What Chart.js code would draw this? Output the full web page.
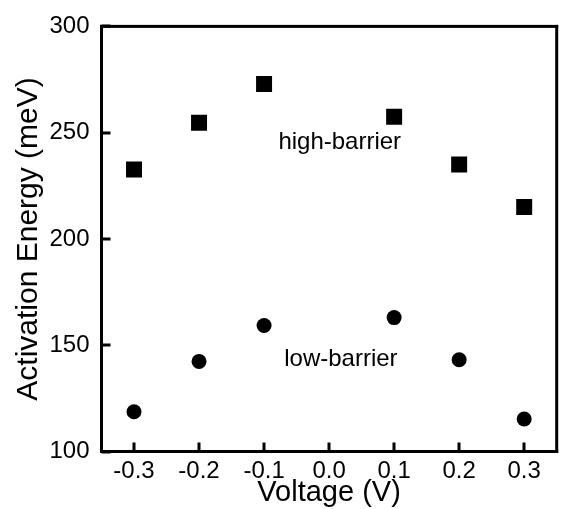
<!DOCTYPE html>
<html>
<head>
<meta charset="utf-8">
<script src="https://cdn.jsdelivr.net/npm/chart.js@4/dist/chart.umd.min.js"></script>
<style>
  html, body { margin: 0; padding: 0; background: #fff; }
  #wrap { width: 568px; height: 509px; }
</style>
</head>
<body>
<div id="wrap"><canvas id="chart"></canvas></div>
<script>
var voltages = [-0.3, -0.2, -0.1, 0.1, 0.2, 0.3];
var highBarrier = [232.7, 254.7, 272.9, 257.5, 235, 215];
var lowBarrier = [118.7, 142.4, 159.3, 163, 143.2, 115.3];
var xTicks = [-0.3, -0.2, -0.1, 0.0, 0.1, 0.2, 0.3];
var yTicks = [100, 150, 200, 250, 300];
var notes = [
  { text: 'high-barrier', x: -0.078, y: 242.2 },
  { text: 'low-barrier', x: -0.069, y: 140 }
];

var fontFamily = '"Liberation Sans", Arial, sans-serif';
var tickLen = 9;

function toPoints(ys) {
  return voltages.map(function(v, i) {
    return { x: v, y: ys[i] };
  });
}

// frame, inward ticks and in-plot labels
var framePlugin = {
  id: 'frame',
  afterDraw: function(chart) {
    var ctx = chart.ctx;
    var a = chart.chartArea;
    var xs = chart.scales.x;
    var ys = chart.scales.y;
    ctx.save();
    ctx.fillStyle = '#000';
    ctx.fillRect(a.left - 1.5, a.top - 1.5, a.right - a.left + 3, 3);
    ctx.fillRect(a.left - 1.5, a.bottom - 1.5, a.right - a.left + 3, 3);
    ctx.fillRect(a.left - 1.5, a.top - 1.5, 3, a.bottom - a.top + 3);
    ctx.fillRect(a.right - 1.5, a.top - 1.5, 3, a.bottom - a.top + 3);
    xTicks.forEach(function(v) {
      var px = Math.round(xs.getPixelForValue(v));
      ctx.fillRect(px - 1.5, a.bottom - tickLen, 3, tickLen);
    });
    yTicks.forEach(function(v) {
      var py = Math.round(ys.getPixelForValue(v));
      ctx.fillRect(a.left, py - 1.5, tickLen, 3);
    });

    ctx.font = '24px ' + fontFamily;
    ctx.textAlign = 'left';
    ctx.textBaseline = 'alphabetic';
    notes.forEach(function(n) {
      ctx.fillText(n.text, xs.getPixelForValue(n.x), ys.getPixelForValue(n.y));
    });
    ctx.restore();
  }
};

var options = {
  type: 'scatter',
  data: {
    datasets: [
      {
        label: 'high-barrier',
        data: toPoints(highBarrier),
        pointStyle: 'rect',
        pointRadius: 11.3,
        pointBackgroundColor: '#000',
        pointBorderWidth: 0,
        showLine: false
      },
      {
        label: 'low-barrier',
        data: toPoints(lowBarrier),
        pointStyle: 'circle',
        pointRadius: 7.5,
        pointBackgroundColor: '#000',
        pointBorderWidth: 0,
        showLine: false
      }
    ]
  },
  options: {
    responsive: true,
    maintainAspectRatio: false,
    animation: false,
    layout: { padding: { top: 24.5, right: 2, left: 0, bottom: 0 } },
    plugins: {
      legend: { display: false },
      tooltip: { enabled: false }
    },
    scales: {
      x: {
        type: 'linear',
        min: -0.35,
        max: 0.35,
        afterBuildTicks: function(scale) {
          scale.ticks = xTicks.map(function(v) { return { value: v }; });
        },
        afterFit: function(scale) { scale.height = 57.5; },
        grid: { display: false, drawTicks: false },
        border: { display: false },
        ticks: {
          color: '#000',
          padding: 5,
          font: { family: fontFamily, size: 24 },
          callback: function(v) { return v.toFixed(1); }
        },
        title: {
          display: true,
          text: 'Voltage (V)',
          color: '#000',
          padding: 0,
          font: { family: fontFamily, size: 29, lineHeight: 1.1 }
        }
      },
      y: {
        min: 100,
        max: 300,
        afterBuildTicks: function(scale) {
          scale.ticks = yTicks.map(function(v) { return { value: v }; });
        },
        afterFit: function(scale) { scale.width = 101.5; },
        grid: { display: false, drawTicks: false },
        border: { display: false },
        ticks: {
          color: '#000',
          padding: 12,
          font: { family: fontFamily, size: 24 }
        },
        title: {
          display: true,
          text: 'Activation Energy (meV)',
          color: '#000',
          padding: { top: 12, bottom: 0 },
          font: { family: fontFamily, size: 30, lineHeight: 1.1 }
        }
      }
    }
  },
  plugins: [framePlugin]
};

var chart = new Chart(document.getElementById('chart'), options);
</script>
</body>
</html>
